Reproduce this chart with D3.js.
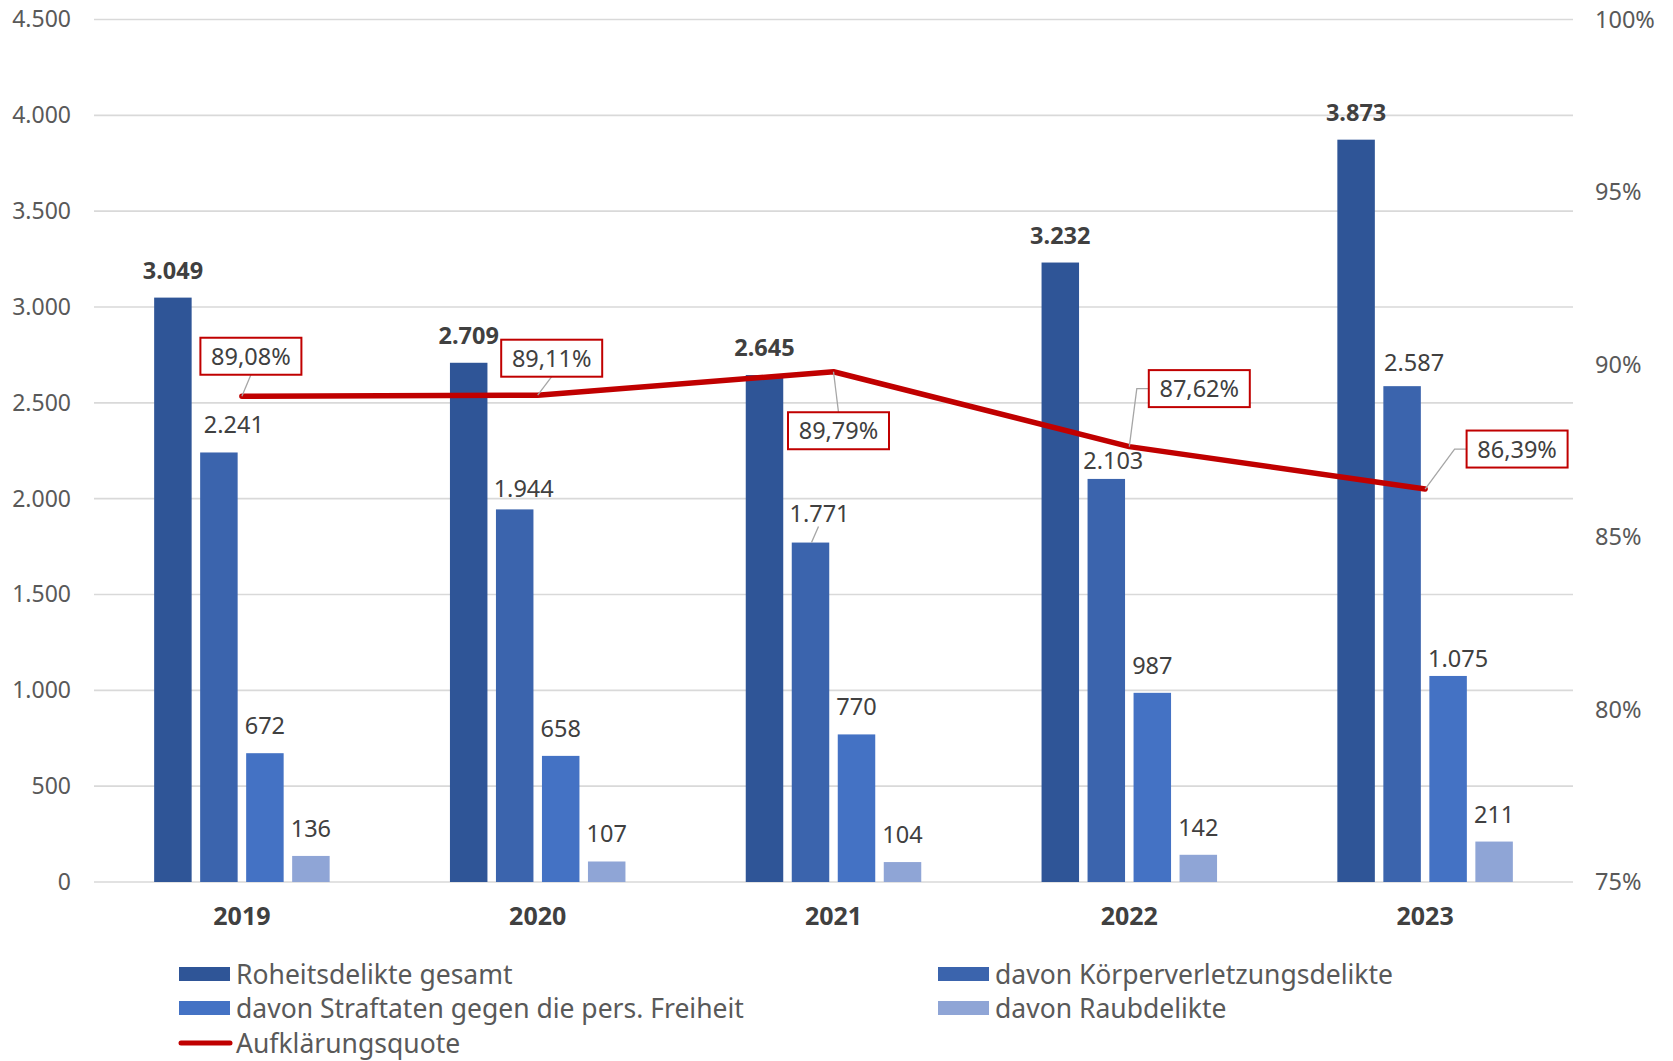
<!DOCTYPE html>
<html>
<head>
<meta charset="utf-8">
<script src="https://cdn.jsdelivr.net/npm/d3@7"></script>
<style>
  body { margin: 0; background: #fff; }
  text { font-family: "Noto Sans", "Open Sans", sans-serif; }
</style>
</head>
<body>
<div class="cont"></div>
<script>
var years = ["2019", "2020", "2021", "2022", "2023"];
var seriesNames = ["Roheitsdelikte gesamt", "davon Körperverletzungsdelikte",
  "davon Straftaten gegen die pers. Freiheit", "davon Raubdelikte"];
var gesamt = [3049, 2709, 2645, 3232, 3873];
var koerper = [2241, 1944, 1771, 2103, 2587];
var freiheit = [672, 658, 770, 987, 1075];
var raub = [136, 107, 104, 142, 211];
var quote = [89.08, 89.11, 89.79, 87.62, 86.39];
var quoteName = "Aufklärungsquote";
var leftTicks = [0, 500, 1000, 1500, 2000, 2500, 3000, 3500, 4000, 4500];
var rightTicks = [75, 80, 85, 90, 95, 100];

var colors = ["#2F5597", "#3B64AD", "#4472C4", "#8FA5D6"];
var lineColor = "#C00000";

// label tweaks (layout only): [dx, dy] per series, per year
var labelShift = [
  [[0, 0], [0, 0], [0, 0], [0, 0], [0, 0]],
  [[15, 0], [9, 7], [9, -2], [7, 9], [12, 4]],
  [[0, 0], [0, 0], [0, 0], [0, 0], [10, 10]],
  [[0, 0], [0, 0], [0, 0], [0, 0], [0, 0]]
];
var quoteBox = [[9, -40], [14, -37], [5, 59], [70, -58], [92, -40]];

var w = 1673, h = 1061;
var pLeft = 94, pRight = 1573, pTop = 19.5, pBottom = 882;

var de = d3.formatLocale({decimal: ",", thousands: ".", grouping: [3], currency: ["", "€"]});
var fmt = de.format(",d");
var pct = de.format(",.2f");

var svg = d3.select(".cont").append("svg")
  .attr("width", w)
  .attr("height", h);

var x0 = d3.scaleBand().domain(years).range([pLeft, pRight]);
var groupW = 175.5;
var x1 = d3.scaleBand().domain(d3.range(4))
  .range([(x0.bandwidth() - groupW) / 2, (x0.bandwidth() + groupW) / 2])
  .paddingInner(0.185);
var y = d3.scaleLinear().domain([0, 4500]).range([pBottom, pTop]);
var y2 = d3.scaleLinear().domain([75, 100]).range([pBottom, pTop]);

// grid
svg.append("g").selectAll("line")
  .data(leftTicks).enter().append("line")
  .attr("x1", pLeft).attr("x2", pRight)
  .attr("y1", function (d) { return y(d); })
  .attr("y2", function (d) { return y(d); })
  .attr("stroke", "#D9D9D9")
  .attr("stroke-width", 1.6);

var yAxisL = d3.axisLeft(y).tickValues(leftTicks).tickSize(0).tickPadding(23)
  .tickFormat(function (d) { return fmt(d); });
svg.append("g").attr("transform", "translate(" + pLeft + ",0)").call(yAxisL)
  .call(function (g) { g.select(".domain").remove(); })
  .selectAll("text").attr("fill", "#595959").style("font-size", "23px")
  .style("font-family", "Noto Sans");

var yAxisR = d3.axisRight(y2).tickValues(rightTicks).tickSize(0).tickPadding(22)
  .tickFormat(function (d) { return d + "%"; });
svg.append("g").attr("transform", "translate(" + pRight + ",0)").call(yAxisR)
  .call(function (g) { g.select(".domain").remove(); })
  .selectAll("text").attr("fill", "#595959").style("font-size", "23.5px")
  .style("font-family", "Noto Sans");

var xAxis = d3.axisBottom(x0).tickSize(0).tickPadding(25);
svg.append("g").attr("transform", "translate(0," + pBottom + ")").call(xAxis)
  .call(function (g) { g.select(".domain").remove(); })
  .selectAll("text").attr("fill", "#404040").style("font-size", "25px")
  .style("font-weight", "bold").style("font-family", "Noto Sans");

// bars
var series = [gesamt, koerper, freiheit, raub];
var rows = [];
series.forEach(function (vals, s) {
  vals.forEach(function (v, i) { rows.push({s: s, i: i, v: v}); });
});

svg.append("g").selectAll("rect")
  .data(rows).enter().append("rect")
  .attr("x", function (d) { return x0(years[d.i]) + x1(d.s); })
  .attr("width", x1.bandwidth())
  .attr("y", function (d) { return y(d.v); })
  .attr("height", function (d) { return pBottom - y(d.v); })
  .attr("fill", function (d) { return colors[d.s]; });

// bar labels
svg.append("g").selectAll("text")
  .data(rows).enter().append("text")
  .attr("x", function (d) {
    return x0(years[d.i]) + x1(d.s) + x1.bandwidth() / 2 + labelShift[d.s][d.i][0];
  })
  .attr("y", function (d) { return y(d.v) - 19 + labelShift[d.s][d.i][1]; })
  .attr("text-anchor", "middle")
  .attr("fill", "#404040")
  .style("font-size", "23.5px")
  .style("font-weight", function (d) { return d.s == 0 ? "bold" : "normal"; })
  .text(function (d) { return fmt(d.v); });

// small leader for the moved 2021 label
var lx = x0(years[2]) + x1(1) + x1.bandwidth() / 2;
svg.append("line")
  .attr("x1", lx + 8).attr("y1", y(koerper[2]) - 16)
  .attr("x2", lx + 1).attr("y2", y(koerper[2]))
  .attr("stroke", "#A6A6A6").attr("stroke-width", 1.3);

// line
var cx = function (i) { return x0(years[i]) + x0.bandwidth() / 2; };
var line = d3.line()
  .x(function (d, i) { return cx(i); })
  .y(function (d) { return y2(d); });

svg.append("path")
  .datum(quote)
  .attr("d", line)
  .attr("fill", "none")
  .attr("stroke", lineColor)
  .attr("stroke-width", 5.5)
  .attr("stroke-linejoin", "round")
  .attr("stroke-linecap", "round");

// quote labels
var bw = 101, bh = 37;
var ql = svg.append("g").selectAll("g")
  .data(quote).enter().append("g");

ql.append("path")
  .attr("d", function (d, i) {
    var px = cx(i), py = y2(d);
    var bx = px + quoteBox[i][0], by = py + quoteBox[i][1];
    if (quoteBox[i][0] > bw / 2) {
      var ex = bx - bw / 2;
      return "M" + px + "," + py + "L" + (ex - 12) + "," + by + "L" + ex + "," + by;
    }
    var ey = quoteBox[i][1] < 0 ? by + bh / 2 : by - bh / 2;
    return "M" + px + "," + py + "L" + bx + "," + ey;
  })
  .attr("fill", "none")
  .attr("stroke", "#A6A6A6")
  .attr("stroke-width", 1.3);

ql.append("rect")
  .attr("x", function (d, i) { return cx(i) + quoteBox[i][0] - bw / 2; })
  .attr("y", function (d, i) { return y2(d) + quoteBox[i][1] - bh / 2; })
  .attr("width", bw).attr("height", bh)
  .attr("fill", "#fff")
  .attr("stroke", lineColor)
  .attr("stroke-width", 2);

ql.append("text")
  .attr("x", function (d, i) { return cx(i) + quoteBox[i][0]; })
  .attr("y", function (d, i) { return y2(d) + quoteBox[i][1] + 8.5; })
  .attr("text-anchor", "middle")
  .attr("fill", "#404040")
  .style("font-size", "23.5px")
  .text(function (d) { return pct(d) + "%"; });

// legend
var legPos = [[179, 974], [938, 974], [179, 1008], [938, 1008]];
var leg = svg.append("g").selectAll("g")
  .data(seriesNames).enter().append("g")
  .attr("transform", function (d, i) { return "translate(" + legPos[i][0] + "," + legPos[i][1] + ")"; });
leg.append("rect")
  .attr("x", 0).attr("y", -7).attr("width", 51).attr("height", 14)
  .attr("fill", function (d, i) { return colors[i]; });
leg.append("text")
  .attr("x", 57).attr("y", 9.5)
  .attr("fill", "#595959")
  .style("font-size", "26.5px")
  .text(function (d) { return d; });

var lq = svg.append("g").attr("transform", "translate(179,1043)");
lq.append("line").attr("x1", 2).attr("x2", 51).attr("y1", 0).attr("y2", 0)
  .attr("stroke", lineColor).attr("stroke-width", 5).attr("stroke-linecap", "round");
lq.append("text").attr("x", 57).attr("y", 9.5)
  .attr("fill", "#595959").style("font-size", "26.5px").text(quoteName);
</script>
</body>
</html>
